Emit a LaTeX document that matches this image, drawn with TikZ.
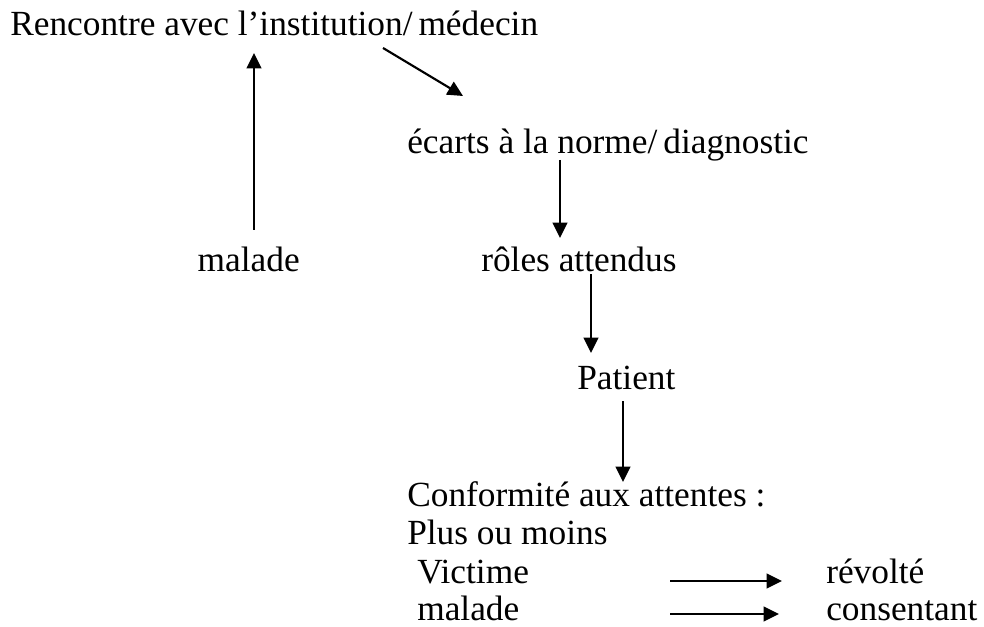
\documentclass[tikz,border=0pt]{standalone}
\usepackage{fontspec}
\setmainfont{Liberation Serif}
\usetikzlibrary{arrows.meta}
\begin{document}
\begin{tikzpicture}[x=0.75pt,y=-0.75pt,
  lbl/.style={anchor=base west,inner sep=0pt,font=\fontsize{26.5pt}{30pt}\selectfont},
  arr/.style={line width=1.6pt,-{Triangle[length=11.5pt,width=11pt]}}]
\useasboundingbox (0,0) rectangle (984,627);
\node[lbl] (renc) at (10,36) {Rencontre avec l’institution/\,médecin};
\node[lbl] (ecarts) at (407,154) {écarts à la norme/\,diagnostic};
\node[lbl,anchor=base east] (malade) at (300,272) {malade};
\node[lbl] (roles) at (481,272) {rôles attendus};
\node[lbl] (patient) at (577,389) {Patient};
\node[lbl] (conf) at (407,506) {Conformité aux attentes :};
\node[lbl] (plus) at (407,544) {Plus ou moins};
\node[lbl] (victime) at (417,583) {Victime};
\node[lbl] (malade2) at (417,620) {malade};
\node[lbl] (revolte) at (826,583) {révolté};
\node[lbl] (consent) at (826,620) {consentant};
\coordinate (a1s) at (254,230); \coordinate (a1e) at (254,53);
\coordinate (a2s) at (383,48); \coordinate (a2e) at (463,96);
\coordinate (a3s) at (560,160); \coordinate (a3e) at (560,238);
\coordinate (a4s) at (591,274); \coordinate (a4e) at (591,353);
\coordinate (a5s) at (623,401); \coordinate (a5e) at (623,482);
\coordinate (a6s) at (670,581); \coordinate (a6e) at (782,581);
\coordinate (a7s) at (670,614); \coordinate (a7e) at (779,614);
\draw[arr] (a1s) -- (a1e);
\draw[arr] (a2s) -- (a2e);
\draw[arr] (a3s) -- (a3e);
\draw[arr] (a4s) -- (a4e);
\draw[arr] (a5s) -- (a5e);
\draw[arr] (a6s) -- (a6e);
\draw[arr] (a7s) -- (a7e);
\end{tikzpicture}
\end{document}
